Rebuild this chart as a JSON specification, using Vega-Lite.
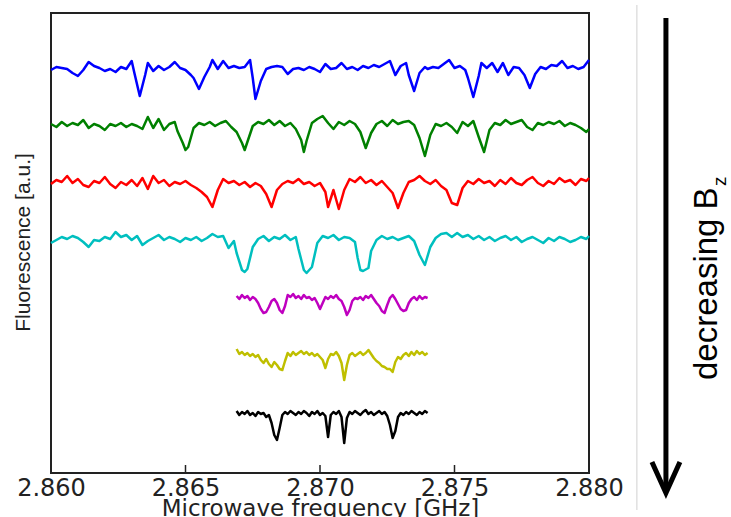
{
"$schema": "https://vega.github.io/schema/vega-lite/v6.json",
"width": 538, "height": 460,
"autosize": {"type": "none"},
"padding": {"left": 51, "top": 13, "right": 142, "bottom": 44},
"background": "white",
"config": {"view": {"stroke": "#222", "strokeWidth": 2}, "font": "DejaVu Sans"},
"datasets": {"traces": [
{"s":"b","f":2.86,"v":403},{"s":"b","f":2.8602,"v":406},{"s":"b","f":2.8604,"v":405},{"s":"b","f":2.8606,"v":404},{"s":"b","f":2.8608,"v":400},{"s":"b","f":2.861,"v":397},{"s":"b","f":2.8612,"v":403},{"s":"b","f":2.8614,"v":411},{"s":"b","f":2.8616,"v":407},{"s":"b","f":2.8618,"v":405},{"s":"b","f":2.862,"v":402},{"s":"b","f":2.8622,"v":404},{"s":"b","f":2.8624,"v":401},{"s":"b","f":2.8626,"v":406},{"s":"b","f":2.8628,"v":404},{"s":"b","f":2.863,"v":412},{"s":"b","f":2.8631,"v":400},{"s":"b","f":2.8633,"v":377},{"s":"b","f":2.8635,"v":398},{"s":"b","f":2.8636,"v":410},{"s":"b","f":2.8638,"v":402},{"s":"b","f":2.864,"v":407},{"s":"b","f":2.8642,"v":403},{"s":"b","f":2.8644,"v":406},{"s":"b","f":2.8646,"v":411},{"s":"b","f":2.8648,"v":405},{"s":"b","f":2.865,"v":403},{"s":"b","f":2.8652,"v":398},{"s":"b","f":2.8653,"v":395},{"s":"b","f":2.8655,"v":384},{"s":"b","f":2.8657,"v":396},{"s":"b","f":2.8659,"v":406},{"s":"b","f":2.866,"v":413},{"s":"b","f":2.8662,"v":404},{"s":"b","f":2.8664,"v":412},{"s":"b","f":2.8666,"v":405},{"s":"b","f":2.8668,"v":407},{"s":"b","f":2.867,"v":405},{"s":"b","f":2.8672,"v":406},{"s":"b","f":2.8674,"v":413},{"s":"b","f":2.8675,"v":395},{"s":"b","f":2.8676,"v":374},{"s":"b","f":2.8678,"v":392},{"s":"b","f":2.868,"v":404},{"s":"b","f":2.8682,"v":406},{"s":"b","f":2.8684,"v":407},{"s":"b","f":2.8686,"v":406},{"s":"b","f":2.8688,"v":399},{"s":"b","f":2.869,"v":404},{"s":"b","f":2.8692,"v":405},{"s":"b","f":2.8694,"v":403},{"s":"b","f":2.8696,"v":406},{"s":"b","f":2.8698,"v":404},{"s":"b","f":2.87,"v":401},{"s":"b","f":2.8702,"v":409},{"s":"b","f":2.8704,"v":404},{"s":"b","f":2.8706,"v":405},{"s":"b","f":2.8708,"v":410},{"s":"b","f":2.871,"v":404},{"s":"b","f":2.8712,"v":406},{"s":"b","f":2.8714,"v":403},{"s":"b","f":2.8716,"v":407},{"s":"b","f":2.8718,"v":405},{"s":"b","f":2.872,"v":408},{"s":"b","f":2.8722,"v":406},{"s":"b","f":2.8724,"v":409},{"s":"b","f":2.8726,"v":412},{"s":"b","f":2.8728,"v":398},{"s":"b","f":2.873,"v":407},{"s":"b","f":2.8732,"v":410},{"s":"b","f":2.8733,"v":398},{"s":"b","f":2.8735,"v":382},{"s":"b","f":2.8737,"v":400},{"s":"b","f":2.8739,"v":406},{"s":"b","f":2.874,"v":404},{"s":"b","f":2.8742,"v":406},{"s":"b","f":2.8744,"v":405},{"s":"b","f":2.8746,"v":409},{"s":"b","f":2.8748,"v":413},{"s":"b","f":2.875,"v":405},{"s":"b","f":2.8752,"v":407},{"s":"b","f":2.8754,"v":403},{"s":"b","f":2.8755,"v":395},{"s":"b","f":2.8757,"v":376},{"s":"b","f":2.8759,"v":397},{"s":"b","f":2.876,"v":410},{"s":"b","f":2.8762,"v":405},{"s":"b","f":2.8764,"v":410},{"s":"b","f":2.8766,"v":401},{"s":"b","f":2.8768,"v":410},{"s":"b","f":2.877,"v":398},{"s":"b","f":2.8772,"v":406},{"s":"b","f":2.8774,"v":405},{"s":"b","f":2.8776,"v":398},{"s":"b","f":2.8778,"v":385},{"s":"b","f":2.878,"v":399},{"s":"b","f":2.8782,"v":406},{"s":"b","f":2.8784,"v":404},{"s":"b","f":2.8786,"v":408},{"s":"b","f":2.8788,"v":407},{"s":"b","f":2.879,"v":412},{"s":"b","f":2.8792,"v":405},{"s":"b","f":2.8794,"v":407},{"s":"b","f":2.8796,"v":404},{"s":"b","f":2.8798,"v":406},{"s":"b","f":2.88,"v":413},
{"s":"g","f":2.86,"v":349},{"s":"g","f":2.8602,"v":346},{"s":"g","f":2.8604,"v":351},{"s":"g","f":2.8606,"v":347},{"s":"g","f":2.8608,"v":350},{"s":"g","f":2.861,"v":348},{"s":"g","f":2.8612,"v":353},{"s":"g","f":2.8614,"v":345},{"s":"g","f":2.8616,"v":349},{"s":"g","f":2.8618,"v":347},{"s":"g","f":2.862,"v":343},{"s":"g","f":2.8622,"v":349},{"s":"g","f":2.8624,"v":347},{"s":"g","f":2.8626,"v":350},{"s":"g","f":2.8628,"v":346},{"s":"g","f":2.863,"v":349},{"s":"g","f":2.8632,"v":347},{"s":"g","f":2.8634,"v":344},{"s":"g","f":2.8636,"v":356},{"s":"g","f":2.8638,"v":345},{"s":"g","f":2.864,"v":354},{"s":"g","f":2.8642,"v":343},{"s":"g","f":2.8644,"v":349},{"s":"g","f":2.8646,"v":351},{"s":"g","f":2.8647,"v":342},{"s":"g","f":2.8649,"v":330},{"s":"g","f":2.865,"v":323},{"s":"g","f":2.8651,"v":326},{"s":"g","f":2.8653,"v":345},{"s":"g","f":2.8655,"v":350},{"s":"g","f":2.8657,"v":348},{"s":"g","f":2.8659,"v":351},{"s":"g","f":2.8661,"v":347},{"s":"g","f":2.8663,"v":350},{"s":"g","f":2.8665,"v":352},{"s":"g","f":2.8667,"v":346},{"s":"g","f":2.8669,"v":341},{"s":"g","f":2.8671,"v":330},{"s":"g","f":2.8672,"v":323},{"s":"g","f":2.8673,"v":331},{"s":"g","f":2.8675,"v":347},{"s":"g","f":2.8677,"v":351},{"s":"g","f":2.8679,"v":349},{"s":"g","f":2.8681,"v":353},{"s":"g","f":2.8683,"v":348},{"s":"g","f":2.8685,"v":352},{"s":"g","f":2.8687,"v":347},{"s":"g","f":2.8689,"v":350},{"s":"g","f":2.8691,"v":344},{"s":"g","f":2.8693,"v":333},{"s":"g","f":2.8694,"v":321},{"s":"g","f":2.8695,"v":332},{"s":"g","f":2.8697,"v":350},{"s":"g","f":2.8699,"v":354},{"s":"g","f":2.8701,"v":357},{"s":"g","f":2.8703,"v":350},{"s":"g","f":2.8705,"v":344},{"s":"g","f":2.8707,"v":351},{"s":"g","f":2.8709,"v":348},{"s":"g","f":2.8711,"v":352},{"s":"g","f":2.8713,"v":349},{"s":"g","f":2.8715,"v":341},{"s":"g","f":2.8717,"v":325},{"s":"g","f":2.8719,"v":340},{"s":"g","f":2.8721,"v":349},{"s":"g","f":2.8723,"v":352},{"s":"g","f":2.8725,"v":347},{"s":"g","f":2.8727,"v":353},{"s":"g","f":2.8729,"v":349},{"s":"g","f":2.8731,"v":351},{"s":"g","f":2.8733,"v":352},{"s":"g","f":2.8735,"v":348},{"s":"g","f":2.8737,"v":335},{"s":"g","f":2.8739,"v":317},{"s":"g","f":2.8741,"v":338},{"s":"g","f":2.8743,"v":349},{"s":"g","f":2.8745,"v":347},{"s":"g","f":2.8747,"v":350},{"s":"g","f":2.8749,"v":346},{"s":"g","f":2.8751,"v":340},{"s":"g","f":2.8753,"v":351},{"s":"g","f":2.8755,"v":347},{"s":"g","f":2.8757,"v":352},{"s":"g","f":2.8759,"v":336},{"s":"g","f":2.8761,"v":321},{"s":"g","f":2.8763,"v":343},{"s":"g","f":2.8765,"v":350},{"s":"g","f":2.8767,"v":348},{"s":"g","f":2.8769,"v":353},{"s":"g","f":2.8771,"v":349},{"s":"g","f":2.8773,"v":351},{"s":"g","f":2.8775,"v":353},{"s":"g","f":2.8777,"v":346},{"s":"g","f":2.8779,"v":343},{"s":"g","f":2.8781,"v":350},{"s":"g","f":2.8783,"v":348},{"s":"g","f":2.8785,"v":351},{"s":"g","f":2.8787,"v":349},{"s":"g","f":2.8789,"v":352},{"s":"g","f":2.8791,"v":347},{"s":"g","f":2.8793,"v":350},{"s":"g","f":2.8795,"v":348},{"s":"g","f":2.8797,"v":345},{"s":"g","f":2.8799,"v":341},{"s":"g","f":2.88,"v":344},
{"s":"r","f":2.86,"v":289},{"s":"r","f":2.8602,"v":293},{"s":"r","f":2.8604,"v":291},{"s":"r","f":2.8606,"v":297},{"s":"r","f":2.8608,"v":290},{"s":"r","f":2.861,"v":294},{"s":"r","f":2.8612,"v":288},{"s":"r","f":2.8614,"v":286},{"s":"r","f":2.8616,"v":292},{"s":"r","f":2.8618,"v":290},{"s":"r","f":2.862,"v":296},{"s":"r","f":2.8622,"v":289},{"s":"r","f":2.8624,"v":285},{"s":"r","f":2.8626,"v":291},{"s":"r","f":2.8628,"v":288},{"s":"r","f":2.863,"v":293},{"s":"r","f":2.8632,"v":287},{"s":"r","f":2.8634,"v":295},{"s":"r","f":2.8636,"v":284},{"s":"r","f":2.8638,"v":297},{"s":"r","f":2.864,"v":290},{"s":"r","f":2.8642,"v":293},{"s":"r","f":2.8644,"v":287},{"s":"r","f":2.8646,"v":291},{"s":"r","f":2.8648,"v":289},{"s":"r","f":2.865,"v":292},{"s":"r","f":2.8652,"v":288},{"s":"r","f":2.8654,"v":285},{"s":"r","f":2.8656,"v":281},{"s":"r","f":2.8658,"v":276},{"s":"r","f":2.866,"v":266},{"s":"r","f":2.8662,"v":283},{"s":"r","f":2.8664,"v":294},{"s":"r","f":2.8666,"v":290},{"s":"r","f":2.8668,"v":292},{"s":"r","f":2.867,"v":288},{"s":"r","f":2.8672,"v":291},{"s":"r","f":2.8674,"v":286},{"s":"r","f":2.8676,"v":290},{"s":"r","f":2.8678,"v":287},{"s":"r","f":2.868,"v":279},{"s":"r","f":2.8682,"v":266},{"s":"r","f":2.8684,"v":283},{"s":"r","f":2.8686,"v":289},{"s":"r","f":2.8688,"v":292},{"s":"r","f":2.869,"v":290},{"s":"r","f":2.8692,"v":294},{"s":"r","f":2.8694,"v":289},{"s":"r","f":2.8696,"v":291},{"s":"r","f":2.8698,"v":287},{"s":"r","f":2.87,"v":290},{"s":"r","f":2.8702,"v":281},{"s":"r","f":2.8703,"v":266},{"s":"r","f":2.8705,"v":283},{"s":"r","f":2.8707,"v":264},{"s":"r","f":2.8709,"v":283},{"s":"r","f":2.8711,"v":294},{"s":"r","f":2.8713,"v":291},{"s":"r","f":2.8715,"v":296},{"s":"r","f":2.8717,"v":290},{"s":"r","f":2.8719,"v":293},{"s":"r","f":2.8721,"v":288},{"s":"r","f":2.8723,"v":292},{"s":"r","f":2.8725,"v":286},{"s":"r","f":2.8727,"v":280},{"s":"r","f":2.8729,"v":265},{"s":"r","f":2.8731,"v":280},{"s":"r","f":2.8733,"v":291},{"s":"r","f":2.8735,"v":293},{"s":"r","f":2.8737,"v":297},{"s":"r","f":2.8739,"v":292},{"s":"r","f":2.8741,"v":289},{"s":"r","f":2.8743,"v":293},{"s":"r","f":2.8745,"v":287},{"s":"r","f":2.8747,"v":283},{"s":"r","f":2.8749,"v":270},{"s":"r","f":2.8751,"v":268},{"s":"r","f":2.8753,"v":285},{"s":"r","f":2.8755,"v":292},{"s":"r","f":2.8757,"v":289},{"s":"r","f":2.8759,"v":294},{"s":"r","f":2.8761,"v":290},{"s":"r","f":2.8763,"v":292},{"s":"r","f":2.8765,"v":287},{"s":"r","f":2.8767,"v":293},{"s":"r","f":2.8769,"v":289},{"s":"r","f":2.8771,"v":295},{"s":"r","f":2.8773,"v":290},{"s":"r","f":2.8775,"v":288},{"s":"r","f":2.8777,"v":293},{"s":"r","f":2.8779,"v":296},{"s":"r","f":2.8781,"v":290},{"s":"r","f":2.8783,"v":287},{"s":"r","f":2.8785,"v":292},{"s":"r","f":2.8787,"v":289},{"s":"r","f":2.8789,"v":295},{"s":"r","f":2.8791,"v":291},{"s":"r","f":2.8793,"v":293},{"s":"r","f":2.8795,"v":288},{"s":"r","f":2.8797,"v":294},{"s":"r","f":2.8799,"v":292},{"s":"r","f":2.88,"v":295},
{"s":"c","f":2.86,"v":230},{"s":"c","f":2.8602,"v":233},{"s":"c","f":2.8604,"v":236},{"s":"c","f":2.8606,"v":234},{"s":"c","f":2.8608,"v":237},{"s":"c","f":2.861,"v":235},{"s":"c","f":2.8612,"v":231},{"s":"c","f":2.8614,"v":226},{"s":"c","f":2.8616,"v":233},{"s":"c","f":2.8618,"v":232},{"s":"c","f":2.862,"v":236},{"s":"c","f":2.8622,"v":234},{"s":"c","f":2.8624,"v":241},{"s":"c","f":2.8626,"v":236},{"s":"c","f":2.8628,"v":238},{"s":"c","f":2.863,"v":233},{"s":"c","f":2.8632,"v":237},{"s":"c","f":2.8634,"v":228},{"s":"c","f":2.8636,"v":232},{"s":"c","f":2.8638,"v":235},{"s":"c","f":2.864,"v":238},{"s":"c","f":2.8642,"v":233},{"s":"c","f":2.8644,"v":236},{"s":"c","f":2.8646,"v":234},{"s":"c","f":2.8648,"v":231},{"s":"c","f":2.865,"v":235},{"s":"c","f":2.8652,"v":233},{"s":"c","f":2.8654,"v":236},{"s":"c","f":2.8656,"v":232},{"s":"c","f":2.8658,"v":235},{"s":"c","f":2.866,"v":239},{"s":"c","f":2.8662,"v":236},{"s":"c","f":2.8664,"v":237},{"s":"c","f":2.8666,"v":225},{"s":"c","f":2.8668,"v":232},{"s":"c","f":2.8669,"v":220},{"s":"c","f":2.8671,"v":203},{"s":"c","f":2.8672,"v":201},{"s":"c","f":2.8673,"v":204},{"s":"c","f":2.8675,"v":226},{"s":"c","f":2.8677,"v":234},{"s":"c","f":2.8679,"v":237},{"s":"c","f":2.8681,"v":232},{"s":"c","f":2.8683,"v":236},{"s":"c","f":2.8685,"v":234},{"s":"c","f":2.8687,"v":238},{"s":"c","f":2.8689,"v":233},{"s":"c","f":2.8691,"v":236},{"s":"c","f":2.8692,"v":224},{"s":"c","f":2.8694,"v":203},{"s":"c","f":2.8695,"v":200},{"s":"c","f":2.8697,"v":206},{"s":"c","f":2.8699,"v":230},{"s":"c","f":2.8701,"v":237},{"s":"c","f":2.8703,"v":235},{"s":"c","f":2.8705,"v":238},{"s":"c","f":2.8707,"v":233},{"s":"c","f":2.8709,"v":236},{"s":"c","f":2.8711,"v":235},{"s":"c","f":2.8713,"v":231},{"s":"c","f":2.8714,"v":215},{"s":"c","f":2.8715,"v":203},{"s":"c","f":2.8716,"v":202},{"s":"c","f":2.8718,"v":205},{"s":"c","f":2.8719,"v":222},{"s":"c","f":2.8721,"v":233},{"s":"c","f":2.8723,"v":237},{"s":"c","f":2.8725,"v":234},{"s":"c","f":2.8727,"v":236},{"s":"c","f":2.8729,"v":233},{"s":"c","f":2.8731,"v":235},{"s":"c","f":2.8733,"v":237},{"s":"c","f":2.8735,"v":232},{"s":"c","f":2.8737,"v":218},{"s":"c","f":2.8739,"v":208},{"s":"c","f":2.8741,"v":226},{"s":"c","f":2.8743,"v":235},{"s":"c","f":2.8745,"v":239},{"s":"c","f":2.8747,"v":240},{"s":"c","f":2.8749,"v":236},{"s":"c","f":2.8751,"v":240},{"s":"c","f":2.8753,"v":236},{"s":"c","f":2.8755,"v":238},{"s":"c","f":2.8757,"v":234},{"s":"c","f":2.8759,"v":237},{"s":"c","f":2.8761,"v":233},{"s":"c","f":2.8763,"v":236},{"s":"c","f":2.8765,"v":232},{"s":"c","f":2.8767,"v":235},{"s":"c","f":2.8769,"v":237},{"s":"c","f":2.8771,"v":233},{"s":"c","f":2.8773,"v":236},{"s":"c","f":2.8775,"v":231},{"s":"c","f":2.8777,"v":234},{"s":"c","f":2.8779,"v":236},{"s":"c","f":2.8781,"v":233},{"s":"c","f":2.8783,"v":230},{"s":"c","f":2.8785,"v":235},{"s":"c","f":2.8787,"v":232},{"s":"c","f":2.8789,"v":236},{"s":"c","f":2.8791,"v":234},{"s":"c","f":2.8793,"v":231},{"s":"c","f":2.8795,"v":233},{"s":"c","f":2.8797,"v":236},{"s":"c","f":2.8799,"v":234},{"s":"c","f":2.88,"v":237},
{"s":"m","f":2.8669,"v":177},{"s":"m","f":2.867,"v":174},{"s":"m","f":2.8671,"v":178},{"s":"m","f":2.8672,"v":175},{"s":"m","f":2.8673,"v":177},{"s":"m","f":2.8674,"v":173},{"s":"m","f":2.8675,"v":176},{"s":"m","f":2.8676,"v":174},{"s":"m","f":2.8677,"v":170},{"s":"m","f":2.8678,"v":164},{"s":"m","f":2.8679,"v":160},{"s":"m","f":2.868,"v":161},{"s":"m","f":2.8681,"v":166},{"s":"m","f":2.8682,"v":172},{"s":"m","f":2.8683,"v":174},{"s":"m","f":2.8684,"v":170},{"s":"m","f":2.8685,"v":163},{"s":"m","f":2.8686,"v":160},{"s":"m","f":2.8687,"v":167},{"s":"m","f":2.8688,"v":178},{"s":"m","f":2.8689,"v":176},{"s":"m","f":2.869,"v":179},{"s":"m","f":2.8691,"v":175},{"s":"m","f":2.8692,"v":177},{"s":"m","f":2.8693,"v":174},{"s":"m","f":2.8694,"v":178},{"s":"m","f":2.8695,"v":175},{"s":"m","f":2.8696,"v":176},{"s":"m","f":2.8697,"v":173},{"s":"m","f":2.8698,"v":175},{"s":"m","f":2.8699,"v":170},{"s":"m","f":2.87,"v":164},{"s":"m","f":2.8701,"v":170},{"s":"m","f":2.8702,"v":176},{"s":"m","f":2.8703,"v":174},{"s":"m","f":2.8704,"v":177},{"s":"m","f":2.8705,"v":175},{"s":"m","f":2.8706,"v":178},{"s":"m","f":2.8707,"v":174},{"s":"m","f":2.8708,"v":172},{"s":"m","f":2.8709,"v":166},{"s":"m","f":2.871,"v":158},{"s":"m","f":2.8711,"v":163},{"s":"m","f":2.8712,"v":172},{"s":"m","f":2.8713,"v":175},{"s":"m","f":2.8714,"v":174},{"s":"m","f":2.8715,"v":176},{"s":"m","f":2.8716,"v":173},{"s":"m","f":2.8717,"v":177},{"s":"m","f":2.8718,"v":175},{"s":"m","f":2.8719,"v":178},{"s":"m","f":2.872,"v":174},{"s":"m","f":2.8721,"v":170},{"s":"m","f":2.8722,"v":167},{"s":"m","f":2.8723,"v":162},{"s":"m","f":2.8724,"v":160},{"s":"m","f":2.8725,"v":168},{"s":"m","f":2.8726,"v":175},{"s":"m","f":2.8727,"v":178},{"s":"m","f":2.8728,"v":174},{"s":"m","f":2.8729,"v":169},{"s":"m","f":2.873,"v":164},{"s":"m","f":2.8731,"v":162},{"s":"m","f":2.8732,"v":163},{"s":"m","f":2.8733,"v":170},{"s":"m","f":2.8734,"v":174},{"s":"m","f":2.8735,"v":176},{"s":"m","f":2.8736,"v":173},{"s":"m","f":2.8737,"v":177},{"s":"m","f":2.8738,"v":174},{"s":"m","f":2.8739,"v":176},{"s":"m","f":2.874,"v":175},
{"s":"y","f":2.8669,"v":124},{"s":"y","f":2.867,"v":119},{"s":"y","f":2.8671,"v":121},{"s":"y","f":2.8672,"v":118},{"s":"y","f":2.8673,"v":120},{"s":"y","f":2.8674,"v":117},{"s":"y","f":2.8675,"v":119},{"s":"y","f":2.8676,"v":116},{"s":"y","f":2.8677,"v":118},{"s":"y","f":2.8678,"v":113},{"s":"y","f":2.8679,"v":110},{"s":"y","f":2.868,"v":114},{"s":"y","f":2.8681,"v":109},{"s":"y","f":2.8682,"v":106},{"s":"y","f":2.8683,"v":111},{"s":"y","f":2.8684,"v":108},{"s":"y","f":2.8685,"v":104},{"s":"y","f":2.8686,"v":103},{"s":"y","f":2.8687,"v":112},{"s":"y","f":2.8688,"v":120},{"s":"y","f":2.8689,"v":117},{"s":"y","f":2.869,"v":121},{"s":"y","f":2.8691,"v":118},{"s":"y","f":2.8692,"v":120},{"s":"y","f":2.8693,"v":122},{"s":"y","f":2.8694,"v":119},{"s":"y","f":2.8695,"v":121},{"s":"y","f":2.8696,"v":118},{"s":"y","f":2.8697,"v":120},{"s":"y","f":2.8698,"v":117},{"s":"y","f":2.8699,"v":119},{"s":"y","f":2.87,"v":116},{"s":"y","f":2.8701,"v":113},{"s":"y","f":2.8702,"v":105},{"s":"y","f":2.8703,"v":114},{"s":"y","f":2.8704,"v":119},{"s":"y","f":2.8705,"v":118},{"s":"y","f":2.8706,"v":121},{"s":"y","f":2.8707,"v":117},{"s":"y","f":2.8708,"v":110},{"s":"y","f":2.8709,"v":93},{"s":"y","f":2.871,"v":108},{"s":"y","f":2.8711,"v":118},{"s":"y","f":2.8712,"v":120},{"s":"y","f":2.8713,"v":117},{"s":"y","f":2.8714,"v":119},{"s":"y","f":2.8715,"v":121},{"s":"y","f":2.8716,"v":118},{"s":"y","f":2.8717,"v":120},{"s":"y","f":2.8718,"v":123},{"s":"y","f":2.8719,"v":119},{"s":"y","f":2.872,"v":115},{"s":"y","f":2.8721,"v":112},{"s":"y","f":2.8722,"v":110},{"s":"y","f":2.8723,"v":107},{"s":"y","f":2.8724,"v":106},{"s":"y","f":2.8725,"v":104},{"s":"y","f":2.8726,"v":104},{"s":"y","f":2.8727,"v":101},{"s":"y","f":2.8728,"v":111},{"s":"y","f":2.8729,"v":116},{"s":"y","f":2.873,"v":114},{"s":"y","f":2.8731,"v":118},{"s":"y","f":2.8732,"v":120},{"s":"y","f":2.8733,"v":117},{"s":"y","f":2.8734,"v":121},{"s":"y","f":2.8735,"v":118},{"s":"y","f":2.8736,"v":122},{"s":"y","f":2.8737,"v":119},{"s":"y","f":2.8738,"v":121},{"s":"y","f":2.8739,"v":118},{"s":"y","f":2.874,"v":120},
{"s":"k","f":2.8669,"v":62},{"s":"k","f":2.867,"v":58},{"s":"k","f":2.8671,"v":61},{"s":"k","f":2.8672,"v":59},{"s":"k","f":2.8673,"v":62},{"s":"k","f":2.8674,"v":58},{"s":"k","f":2.8675,"v":60},{"s":"k","f":2.8676,"v":57},{"s":"k","f":2.8677,"v":61},{"s":"k","f":2.8678,"v":59},{"s":"k","f":2.8679,"v":60},{"s":"k","f":2.868,"v":56},{"s":"k","f":2.8681,"v":58},{"s":"k","f":2.8682,"v":50},{"s":"k","f":2.8683,"v":38},{"s":"k","f":2.8684,"v":33},{"s":"k","f":2.8685,"v":45},{"s":"k","f":2.8686,"v":58},{"s":"k","f":2.8687,"v":61},{"s":"k","f":2.8688,"v":59},{"s":"k","f":2.8689,"v":62},{"s":"k","f":2.869,"v":60},{"s":"k","f":2.8691,"v":58},{"s":"k","f":2.8692,"v":61},{"s":"k","f":2.8693,"v":59},{"s":"k","f":2.8694,"v":62},{"s":"k","f":2.8695,"v":60},{"s":"k","f":2.8696,"v":57},{"s":"k","f":2.8697,"v":61},{"s":"k","f":2.8698,"v":59},{"s":"k","f":2.8699,"v":62},{"s":"k","f":2.87,"v":58},{"s":"k","f":2.8701,"v":60},{"s":"k","f":2.8702,"v":57},{"s":"k","f":2.8703,"v":36},{"s":"k","f":2.8704,"v":58},{"s":"k","f":2.8705,"v":61},{"s":"k","f":2.8706,"v":59},{"s":"k","f":2.8707,"v":62},{"s":"k","f":2.8708,"v":56},{"s":"k","f":2.8709,"v":30},{"s":"k","f":2.871,"v":55},{"s":"k","f":2.8711,"v":61},{"s":"k","f":2.8712,"v":59},{"s":"k","f":2.8713,"v":62},{"s":"k","f":2.8714,"v":60},{"s":"k","f":2.8715,"v":58},{"s":"k","f":2.8716,"v":61},{"s":"k","f":2.8717,"v":63},{"s":"k","f":2.8718,"v":59},{"s":"k","f":2.8719,"v":61},{"s":"k","f":2.872,"v":58},{"s":"k","f":2.8721,"v":60},{"s":"k","f":2.8722,"v":62},{"s":"k","f":2.8723,"v":59},{"s":"k","f":2.8724,"v":61},{"s":"k","f":2.8725,"v":57},{"s":"k","f":2.8726,"v":48},{"s":"k","f":2.8727,"v":35},{"s":"k","f":2.8728,"v":42},{"s":"k","f":2.8729,"v":56},{"s":"k","f":2.873,"v":60},{"s":"k","f":2.8731,"v":58},{"s":"k","f":2.8732,"v":61},{"s":"k","f":2.8733,"v":59},{"s":"k","f":2.8734,"v":62},{"s":"k","f":2.8735,"v":60},{"s":"k","f":2.8736,"v":58},{"s":"k","f":2.8737,"v":61},{"s":"k","f":2.8738,"v":59},{"s":"k","f":2.8739,"v":62},{"s":"k","f":2.874,"v":60}
]},
"layer": [
{"data": {"name": "traces"},
 "mark": {"type": "line", "strokeWidth": 2.5, "strokeJoin": "round"},
 "encoding": {
  "x": {"field": "f", "type": "quantitative", "scale": {"domain": [2.86, 2.88], "nice": false, "zero": false},
        "axis": {"values": [2.86, 2.865, 2.87, 2.875, 2.88], "format": ".3f", "title": "Microwave frequency [GHz]", "domain": false, "grid": false, "ticks": false, "tickSize": 0, "labelFontSize": 24, "labelColor": "#222", "labelPadding": 3, "labelFlush": false, "labelOverlap": false, "titleFontSize": 23, "titleFontWeight": "normal", "titleColor": "#222", "titleY": 42, "titleBaseline": "alphabetic"}},
  "y": {"field": "v", "type": "quantitative", "scale": {"domain": [0, 460], "nice": false, "zero": false},
        "axis": {"title": "Fluorescence [a.u.]", "labels": false, "ticks": false, "domain": false, "grid": false, "titleFont": "Liberation Sans", "titleFontSize": 21, "titleFontWeight": "normal", "titleColor": "#222", "titleX": -28, "titleY": 229, "titleAngle": -90, "titleBaseline": "middle", "titleAlign": "center"}},
  "color": {"field": "s", "type": "nominal", "scale": {"domain": ["b", "g", "r", "c", "m", "y", "k"], "range": ["#0000ff", "#008000", "#ff0000", "#00bfbf", "#bf00bf", "#bfbf00", "#000000"]}, "legend": null}
 }},
{"data": {"values": [{"f": 2.865, "v": 0, "v2": 8}, {"f": 2.87, "v": 0, "v2": 8}, {"f": 2.875, "v": 0, "v2": 8}]},
 "mark": {"type": "rule", "color": "#222", "strokeWidth": 1.5},
 "encoding": {"x": {"field": "f", "type": "quantitative"}, "y": {"field": "v", "type": "quantitative"}, "y2": {"field": "v2"}}},
{"data": {"values": [{"f": 2.88178, "v": 468, "v2": -37}]},
 "mark": {"type": "rule", "color": "#d0d0d0", "strokeWidth": 1},
 "encoding": {"x": {"field": "f", "type": "quantitative"}, "y": {"field": "v", "type": "quantitative"}, "y2": {"field": "v2"}}},
{"data": {"values": [{"f": 2.88286, "v": 455, "v2": -15}]},
 "mark": {"type": "rule", "color": "#000000", "strokeWidth": 5},
 "encoding": {"x": {"field": "f", "type": "quantitative"}, "y": {"field": "v", "type": "quantitative"}, "y2": {"field": "v2"}}},
{"data": {"values": [{"f": 2.88234, "v": 11}, {"f": 2.88286, "v": -20}, {"f": 2.88338, "v": 11}]},
 "mark": {"type": "line", "color": "#000000", "strokeWidth": 5, "strokeJoin": "miter", "strokeCap": "butt"},
 "encoding": {"x": {"field": "f", "type": "quantitative"}, "y": {"field": "v", "type": "quantitative"}}},
{"data": {"values": [{"f": 2.88476, "v": 93, "t": "decreasing B"}]},
 "mark": {"type": "text", "angle": 270, "align": "left", "baseline": "alphabetic", "font": "Liberation Sans", "fontSize": 33, "color": "#000000"},
 "encoding": {"x": {"field": "f", "type": "quantitative"}, "y": {"field": "v", "type": "quantitative"}, "text": {"field": "t"}}},
{"data": {"values": [{"f": 2.8851, "v": 287, "t": "z"}]},
 "mark": {"type": "text", "angle": 270, "align": "left", "baseline": "alphabetic", "font": "Liberation Sans", "fontSize": 19, "color": "#000000"},
 "encoding": {"x": {"field": "f", "type": "quantitative"}, "y": {"field": "v", "type": "quantitative"}, "text": {"field": "t"}}}
]
}
